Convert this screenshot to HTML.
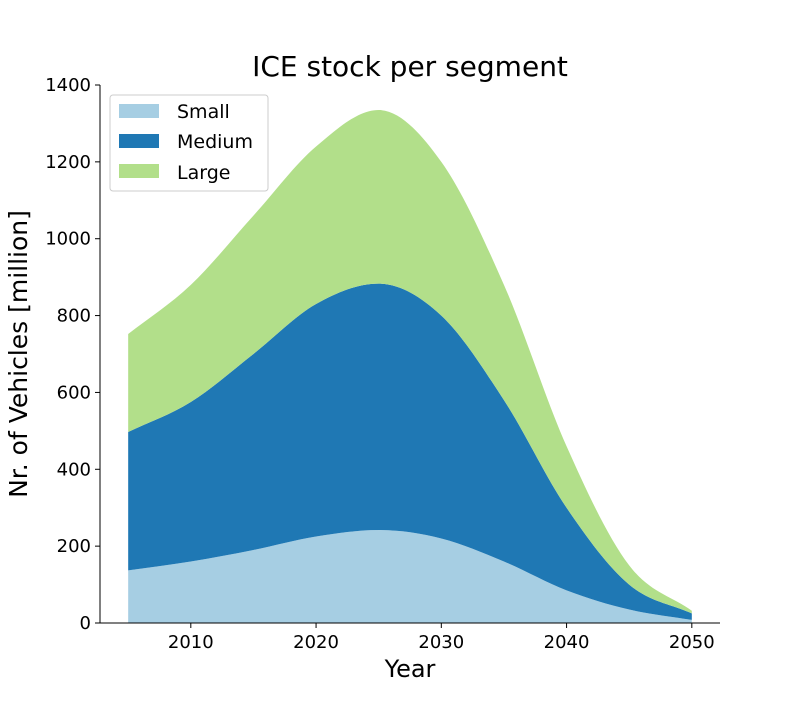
<!DOCTYPE html>
<html><head><meta charset="utf-8"><style>
body{margin:0;background:#fff;font-family:"Liberation Sans","DejaVu Sans",sans-serif;}
</style></head><body>
<svg id="chart" width="800" height="700" xmlns="http://www.w3.org/2000/svg" font-family="'DejaVu Sans','Liberation Sans',sans-serif">
<text x="410" y="76" font-size="28" text-anchor="middle">ICE stock per segment</text>
<g id="areas"></g>
<g id="axes"></g>
<text x="410" y="677" font-size="24" text-anchor="middle">Year</text>
<text transform="translate(27,354) rotate(-90)" font-size="25" text-anchor="middle">Nr. of Vehicles [million]</text>
<g>
<rect x="110" y="95" width="158" height="96" rx="3" fill="#fff" stroke="#ccc"/>
<rect x="119" y="104" width="40" height="14" fill="#a6cee3"/>
<text x="177" y="118" font-size="19">Small</text>
<rect x="119" y="134" width="40" height="14" fill="#1f78b4"/>
<text x="177" y="148" font-size="19">Medium</text>
<rect x="119" y="164" width="40" height="14" fill="#b2df8a"/>
<text x="177" y="179" font-size="19">Large</text>
</g>
</svg>
<script>
const years=[2005,2010,2015,2020,2025,2030,2035,2040,2045,2050];
const small=[137,160,190,225,242,220,160,85,35,8];
const medium=[360,415,510,605,641,580,420,215,65,17];
const large=[255,305,360,410,452,400,300,160,50,7];
const yTicks=[0,200,400,600,800,1000,1200,1400];
const xTicks=[2010,2020,2030,2040,2050];
const NS="http://www.w3.org/2000/svg";
const X0=100,X1=720,Y0=623,Y1=85;
const xs=v=>X0+(v-2002.75)/(2052.25-2002.75)*(X1-X0);
const ys=v=>Y0-v/1400*(Y0-Y1);
function smooth(pts){
  const n=pts.length,d=[],m=[];
  for(let i=0;i<n-1;i++)d.push((pts[i+1][1]-pts[i][1])/(pts[i+1][0]-pts[i][0]));
  m[0]=d[0];m[n-1]=d[n-2];
  for(let i=1;i<n-1;i++)m[i]=d[i-1]*d[i]<=0?0:(d[i-1]+d[i])/2;
  let s="";
  for(let i=0;i<n-1;i++){const h=pts[i+1][0]-pts[i][0];
    s+=` C${pts[i][0]+h/3},${pts[i][1]+m[i]*h/3} ${pts[i+1][0]-h/3},${pts[i+1][1]-m[i+1]*h/3} ${pts[i+1][0]},${pts[i+1][1]}`;}
  return s;
}
const areas=document.getElementById('areas');
let base=years.map(()=>0);
[[small,'#a6cee3','area-small'],[medium,'#1f78b4','area-medium'],[large,'#b2df8a','area-large']].forEach(([ser,col,name])=>{
  const top=base.map((b,i)=>b+ser[i]);
  const tp=years.map((y,i)=>[xs(y),ys(top[i])]);
  const bp=years.map((y,i)=>[xs(y),ys(base[i])]).reverse();
  const d=`M${tp[0][0]},${tp[0][1]}`+smooth(tp)+` L${bp[0][0]},${bp[0][1]}`+smooth(bp)+'Z';
  const p=document.createElementNS(NS,'path');
  p.setAttribute('d',d);p.setAttribute('fill',col);
  
  
  areas.appendChild(p);base=top;
});
const ax=document.getElementById('axes');
function el(tag,attrs,txt){const e=document.createElementNS(NS,tag);for(const k in attrs)e.setAttribute(k,attrs[k]);if(txt!==undefined)e.textContent=txt;ax.appendChild(e);return e;}
const ya=el('line',{x1:X0,y1:Y1,x2:X0,y2:Y0,stroke:'#000','stroke-width':1});


const xa=el('line',{x1:X0,y1:Y0,x2:X1,y2:Y0,stroke:'#000','stroke-width':1});


yTicks.forEach(v=>{
  el('line',{x1:X0-5,x2:X0,y1:ys(v),y2:ys(v),stroke:'#000'});
  const t=el('text',{x:X0-9,y:ys(v)+6,'font-size':18,'text-anchor':'end'},v);
  
  
});
xTicks.forEach(v=>{
  el('line',{x1:xs(v),x2:xs(v),y1:Y0,y2:Y0+5,stroke:'#000'});
  const t=el('text',{x:xs(v),y:Y0+25,'font-size':18,'text-anchor':'middle'},v);
  
  
});
</script>
</body></html>
